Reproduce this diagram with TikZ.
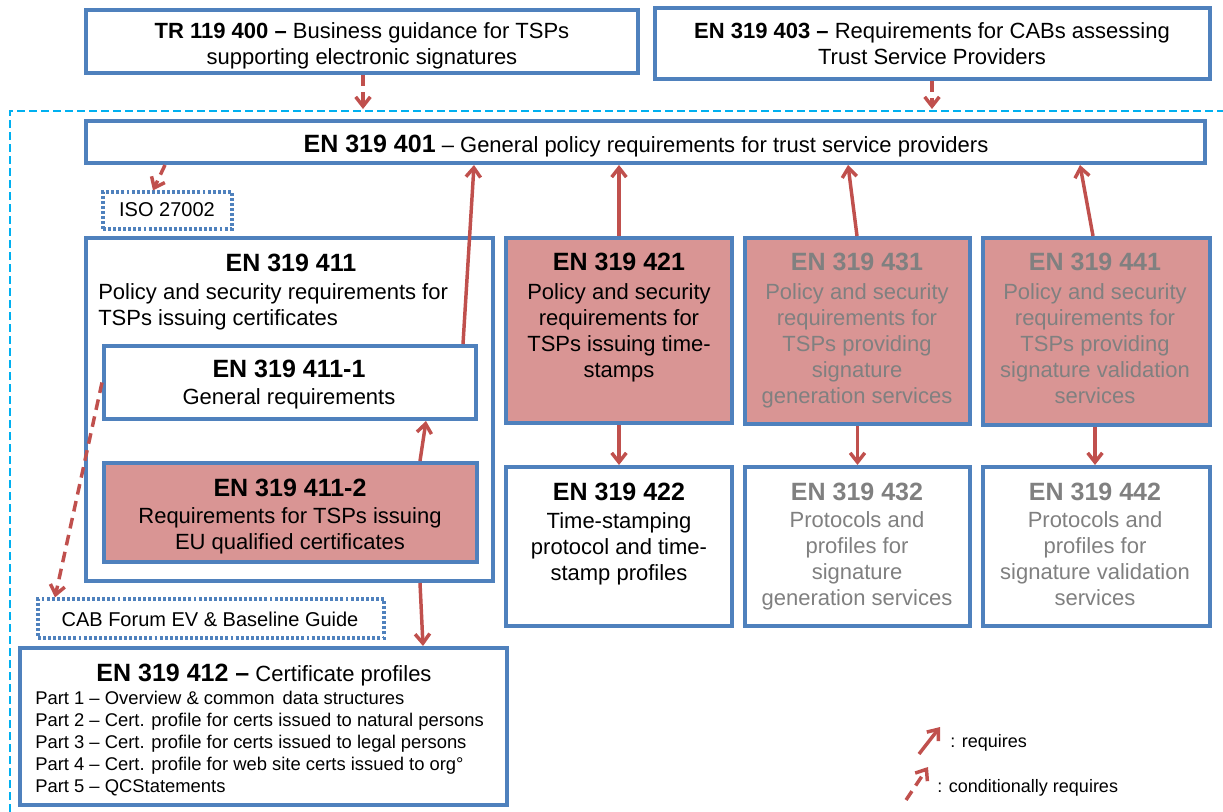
\documentclass[tikz,border=0pt]{standalone}
\usepackage{fontspec}
\setmainfont{Liberation Sans}
\usetikzlibrary{arrows.meta,fit}

\definecolor{boxblue}{HTML}{4F81BD}
\definecolor{arrowred}{HTML}{C0504D}
\definecolor{stdpink}{HTML}{D99594}
\definecolor{greytext}{HTML}{808080}
\definecolor{scopecyan}{HTML}{00B0F0}

\newcommand\hdfont{\fontsize{18.75}{22}\selectfont\bfseries}
\newcommand\bdfont{\fontsize{16.5}{19.5}\selectfont}
\newcommand\ptfont{\fontsize{13.8}{16.5}\selectfont}
\newcommand\refont{\fontsize{15}{18}\selectfont}
\newcommand\lgfont{\fontsize{13.5}{16}\selectfont}

\begin{document}
\begin{tikzpicture}[x=0.75pt,y=-0.75pt,
  stdbox/.style={draw=boxblue,line width=3pt,fill=white,inner sep=0pt},
  pinkbox/.style={stdbox,fill=stdpink},
  refbox/.style={draw=boxblue,line width=2.4pt,dash pattern=on 2.2pt off 1.6pt,inner sep=0pt},
  txt/.style={inner sep=0pt,align=center,font=\bdfont,anchor=north},
  stdtitle/.style={inner sep=0pt,font=\hdfont,anchor=base},
  reqarrow/.style={draw=arrowred,line width=2.6pt,-{Straight Barb[length=7pt,width=11pt]}},
  condarrow/.style={reqarrow,dash pattern=on 8pt off 5pt},
]
\useasboundingbox (0,0) rectangle (1223,812);

% scope of the EN 319 4xx family
\draw[scopecyan,line width=1.2pt,dash pattern=on 6pt off 3pt] (10,812) -- (10,111) -- (1223,111);
\coordinate (scopetr) at (363,109);
\coordinate (scope403) at (932,109);

% boxes
\node[stdbox,fit={(86,10)(638,73)}] (tr) {};
\node[stdbox,fit={(655,8)(1210,79)}] (en403) {};
\node[stdbox,fit={(86,121)(1205,163)}] (en401) {};
\node[refbox,fit={(103,192)(232,229)}] (iso) {};
\node[stdbox,fit={(86,238)(493,581)}] (en411) {};
\node[stdbox,fit={(104,346)(476,419)}] (en4111) {};
\node[pinkbox,fit={(104,463)(477,562)}] (en4112) {};
\node[pinkbox,fit={(506,238)(732,423)}] (en421) {};
\node[pinkbox,fit={(745,238)(970,424)}] (en431) {};
\node[pinkbox,fit={(983,238)(1210,425)}] (en441) {};
\node[stdbox,fit={(506,467)(732,626)}] (en422) {};
\node[stdbox,fit={(745,467)(970,626)}] (en432) {};
\node[stdbox,fit={(983,467)(1210,626)}] (en442) {};
\node[refbox,fit={(38,599)(384,638)}] (cab) {};
\node[stdbox,fit={(20,648)(507,805)}] (en412) {};

% texts
\node[txt] (t-tr) at (362,22) {\textbf{TR 119 400 –} Business guidance for TSPs\\supporting electronic signatures};
\node[txt] (t-403) at (932,22) {\textbf{EN 319 403 –} Requirements for CABs assessing\\Trust Service Providers};
\node[inner sep=0pt,anchor=base,font=\bdfont] (t-401) at (646,153) {{\hdfont EN 319 401} – General policy requirements for trust service providers};
\node[inner sep=0pt,anchor=base,font=\refont] (t-iso) at (167,217) {ISO 27002};

\node[stdtitle] (h-411) at (291,272) {EN 319 411};
\node[txt,anchor=north west,align=left] (t-411) at (98,283) {Policy and security requirements for\\TSPs issuing certificates};
\node[stdtitle] (h-4111) at (289,378) {EN 319 411-1};
\node[inner sep=0pt,anchor=base,font=\bdfont] (t-4111) at (289,405) {General requirements};
\node[stdtitle] (h-4112) at (290,496) {EN 319 411-2};
\node[txt] (t-4112) at (290,507) {Requirements for TSPs issuing\\EU qualified certificates};

\node[stdtitle] (h-421) at (619,271) {EN 319 421};
\node[txt] (t-421) at (619,283) {Policy and security\\requirements for\\TSPs issuing time-\\stamps};
\node[stdtitle,text=greytext] (h-431) at (857,271) {EN 319 431};
\node[txt,text=greytext] (t-431) at (857,283) {Policy and security\\requirements for\\TSPs providing\\signature\\generation services};
\node[stdtitle,text=greytext] (h-441) at (1095,271) {EN 319 441};
\node[txt,text=greytext] (t-441) at (1095,283) {Policy and security\\requirements for\\TSPs providing\\signature validation\\services};

\node[stdtitle] (h-422) at (619,500) {EN 319 422};
\node[txt] (t-422) at (619,512) {Time-stamping\\protocol and time-\\stamp profiles};
\node[stdtitle,text=greytext] (h-432) at (857,500) {EN 319 432};
\node[txt,text=greytext] (t-432) at (857,511) {Protocols and\\profiles for\\signature\\generation services};
\node[stdtitle,text=greytext] (h-442) at (1095,500) {EN 319 442};
\node[txt,text=greytext] (t-442) at (1095,511) {Protocols and\\profiles for\\signature validation\\services};

\node[inner sep=0pt,anchor=base,font=\refont] (t-cab) at (210,626) {CAB Forum EV \& Baseline Guide};
\node[inner sep=0pt,anchor=base,font=\bdfont] (h-412) at (264,681) {{\hdfont EN 319 412 –} Certificate profiles};
\node[inner sep=0pt,anchor=north west,align=left,font=\ptfont] (t-412) at (35,691) {Part 1 – Overview \& common\, data structures\\Part 2 – Cert. profile for certs issued to natural persons\\Part 3 – Cert. profile for certs issued to legal persons\\Part 4 – Cert. profile for web site certs issued to org°\\Part 5 – QCStatements};

% legend
\coordinate (lg-req-a) at (919,754);
\coordinate (lg-req-b) at (940,727);
\coordinate (lg-cond-a) at (906,800);
\coordinate (lg-cond-b) at (928,767);
\draw[reqarrow] (lg-req-a) -- (lg-req-b);
\draw[condarrow] (lg-cond-a) -- (lg-cond-b);
\node[inner sep=0pt,anchor=base west,font=\lgfont] (t-req) at (950,747) {: requires};
\node[inner sep=0pt,anchor=base west,font=\lgfont] (t-cond) at (937,792) {: conditionally requires};

% conditional dependencies
\draw[condarrow] (tr.south -| scopetr) -- (scopetr);
\draw[condarrow] (en403.south -| scope403) -- (scope403);
\draw[condarrow] (165,0 |- en401.south) -- (153,0 |- iso.north);
\draw[condarrow] (en4111.west) -- (55,0 |- cab.north);

% requirements
\draw[reqarrow] (463,0 |- en4111.north) -- (474,0 |- en401.south);
\draw[reqarrow] (420,0 |- en4112.north) -- (426,0 |- en4111.south);
\draw[reqarrow] (420,0 |- en411.south) -- (423,0 |- en412.north);
\draw[reqarrow] (en421.north) -- (en421.north |- en401.south);
\draw[reqarrow] (857,0 |- en431.north) -- (848,0 |- en401.south);
\draw[reqarrow] (1093,0 |- en441.north) -- (1080,0 |- en401.south);
\draw[reqarrow] (en421.south) -- (en421.south |- en422.north);
\draw[reqarrow] (en431.south) -- (en431.south |- en432.north);
\draw[reqarrow] (1095,0 |- en441.south) -- (1095,0 |- en442.north);
\end{tikzpicture}
\end{document}
